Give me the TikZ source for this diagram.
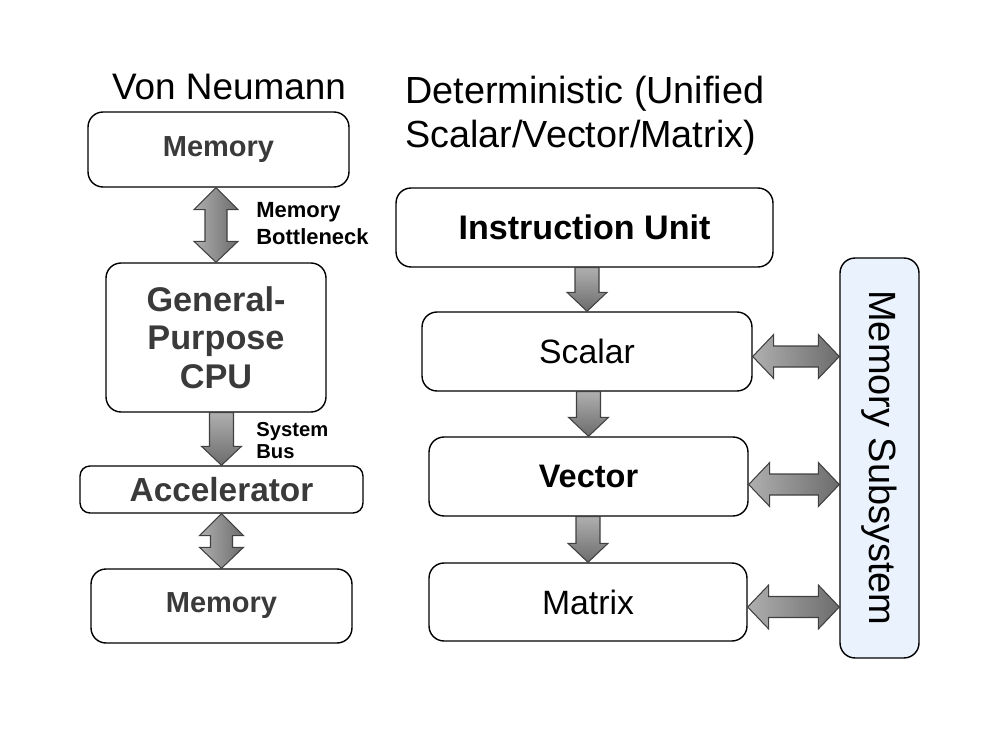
\documentclass[tikz,border=0pt]{standalone}
\usepackage{fontspec}
\setmainfont{Liberation Sans}
\usepackage{graphicx}
\usetikzlibrary{calc}
\definecolor{memfill}{RGB}{234,243,253}
\definecolor{labelgray}{RGB}{58,58,58}
\definecolor{arrowlight}{RGB}{175,175,175}
\definecolor{arrowdark}{RGB}{108,108,108}
\definecolor{arrowedge}{RGB}{64,64,64}

\tikzset{
  unitbox/.style={draw, line width=0.8pt, rounded corners=0.3cm, inner sep=0pt, align=center},
  leftbox/.style={unitbox, text=labelgray, font=\fontsize{16.5}{19}\selectfont\bfseries},
  rightbox/.style={unitbox, font=\fontsize{19.2}{23}\selectfont},
  sidelabel/.style={anchor=west, inner sep=0pt, align=left},
  % gray block arrows, drawn from the start node to the target node
  downarr/.style={draw=arrowedge, line width=0.6pt, top color=arrowlight, bottom color=arrowdark,
    to path={($(\tikztostart -| \tikztotarget)+(-12,0)$) -- ($(\tikztotarget)+(-12,19)$)
      -- ($(\tikztotarget)+(-20,19)$) -- (\tikztotarget) -- ($(\tikztotarget)+(20,19)$)
      -- ($(\tikztotarget)+(12,19)$) -- ($(\tikztostart -| \tikztotarget)+(12,0)$) -- cycle}},
  vdblarr/.style={draw=arrowedge, line width=0.6pt, left color=arrowlight, right color=arrowdark,
    to path={(\tikztostart -| \tikztotarget) -- ($(\tikztostart -| \tikztotarget)+(22,-22)$)
      -- ($(\tikztostart -| \tikztotarget)+(11,-22)$) -- ($(\tikztotarget)+(11,21)$)
      -- ($(\tikztotarget)+(22,21)$) -- (\tikztotarget) -- ($(\tikztotarget)+(-22,21)$)
      -- ($(\tikztotarget)+(-11,21)$) -- ($(\tikztostart -| \tikztotarget)+(-11,-22)$)
      -- ($(\tikztostart -| \tikztotarget)+(-22,-22)$) -- cycle}},
  hdblarr/.style={draw=arrowedge, line width=0.6pt, left color=arrowlight, right color=arrowdark,
    to path={(\tikztostart) -- ($(\tikztostart)+(21,22)$) -- ($(\tikztostart)+(21,10.5)$)
      -- ($(\tikztostart -| \tikztotarget)+(-21,10.5)$) -- ($(\tikztostart -| \tikztotarget)+(-21,22)$)
      -- (\tikztostart -| \tikztotarget) -- ($(\tikztostart -| \tikztotarget)+(-21,-22)$)
      -- ($(\tikztostart -| \tikztotarget)+(-21,-10.5)$) -- ($(\tikztostart)+(21,-10.5)$)
      -- ($(\tikztostart)+(21,-22)$) -- cycle}}
}

\begin{document}
\begin{tikzpicture}[x=0.02cm, y=0.02cm]
  \useasboundingbox (0,0) rectangle (1000,748);

  % Von Neumann side
  \node[inner sep=0pt, font=\fontsize{21}{25}\selectfont] (vntitle) at (229,661.5) {Von Neumann};
  \node[leftbox, minimum width=5.22cm, minimum height=1.5cm] (topmem) at (218.5,598.5) {Memory};
  \node[leftbox, minimum width=4.4cm, minimum height=2.98cm,
        font=\fontsize{19.5}{22}\selectfont\bfseries] (cpu) at (216,410.5) {General-\\Purpose\\CPU};
  \node[leftbox, minimum width=5.66cm, minimum height=0.94cm, rounded corners=0.2cm,
        font=\fontsize{19}{22}\selectfont\bfseries] (accel) at (221.5,258.5) {Accelerator};
  \node[leftbox, minimum width=5.22cm, minimum height=1.48cm] (botmem) at (221.5,142) {Memory};

  \draw[vdblarr] (topmem.south) to (cpu.north);
  \draw[downarr] (cpu.south) to (accel.north);
  \draw[vdblarr] (accel.south) to (botmem.north);

  \node[sidelabel, font=\fontsize{12.5}{15.3}\selectfont\bfseries] (bottlenote) at (256,524.5) {Memory\\Bottleneck};
  \node[sidelabel, font=\fontsize{11.5}{12.5}\selectfont\bfseries] (busnote) at (256,307) {System\\Bus};

  % Deterministic side
  \node[sidelabel, font=\fontsize{21.5}{25}\selectfont] (dettitle) at (405,632) {Deterministic (Unified\\Scalar/Vector/Matrix)};
  \node[rightbox, minimum width=7.54cm, minimum height=1.58cm,
        font=\fontsize{19.4}{23}\selectfont\bfseries] (instr) at (584.5,520.5) {Instruction Unit};
  \node[rightbox, minimum width=6.6cm, minimum height=1.58cm] (scalar) at (587,396.5) {Scalar};
  \node[rightbox, minimum width=6.38cm, minimum height=1.58cm,
        font=\fontsize{18.5}{22}\selectfont\bfseries] (vector) at (588.5,271.5) {Vector};
  \node[rightbox, minimum width=6.36cm, minimum height=1.56cm] (matrix) at (588,146) {Matrix};
  \node[unitbox, fill=memfill, minimum width=1.58cm, minimum height=8cm,
        font=\fontsize{21.6}{25}\selectfont] (memsub) at (879.5,290) {\rotatebox{-90}{Memory Subsystem}};

  \draw[downarr] (instr.south) to (scalar.north);
  \draw[downarr] (scalar.south) to (vector.north);
  \draw[downarr] (vector.south) to (matrix.north);

  \draw[hdblarr] ([yshift=-0.1cm]scalar.east) to (memsub.west);
  \draw[hdblarr] ([yshift=-0.16cm]vector.east) to (memsub.west);
  \draw[hdblarr] ([yshift=-0.1cm]matrix.east) to (memsub.west);
\end{tikzpicture}
\end{document}
